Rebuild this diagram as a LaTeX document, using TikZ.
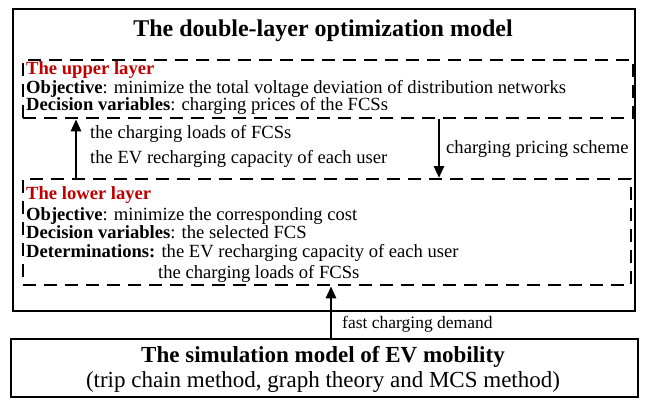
\documentclass[tikz,border=0pt]{standalone}
\usepackage{fontspec}
\setmainfont{Liberation Serif}
\usetikzlibrary{arrows.meta}
\definecolor{layerred}{HTML}{C00000}
\tikzset{
  solidbox/.style={draw=black, line width=1.8pt, inner sep=0pt},
  dashbox/.style={draw=black, line width=2.3pt, dash pattern=on 13pt off 8pt, inner sep=0pt},
  txt/.style={anchor=base west, inner sep=0pt, font=\fontsize{18.6}{20}\selectfont},
  redtxt/.style={txt, text=layerred, font=\fontsize{18.6}{20}\selectfont\bfseries},
  flow/.style={line width=2.6pt, -{Triangle[length=12pt,width=10pt]}},
}
\begin{document}
\begin{tikzpicture}[x=1pt,y=-1pt]
\useasboundingbox (0,0) rectangle (647,399);
% outer box
\node[solidbox, minimum width=622pt, minimum height=302pt, anchor=north west] (outer) at (12,8) {};
\node[anchor=base, inner sep=0pt, font=\fontsize{24}{28}\selectfont\bfseries] (title) at (323,36) {The double-layer optimization model};
% upper layer
\node[dashbox, minimum width=610pt, minimum height=58pt, anchor=north west] (upper) at (22,59) {};
\node[redtxt] (uptitle) at (26,74) {The upper layer};
\node[txt] (upobj) at (26,93) {\textbf{Objective}: minimize the total voltage deviation of distribution networks};
\node[txt] (updec) at (26,110) {\textbf{Decision variables}: charging prices of the FCSs};
% lower layer
\node[dashbox, minimum width=608pt, minimum height=106pt, anchor=north west] (lower) at (22,178) {};
\node[redtxt] (lowtitle) at (26,199) {The lower layer};
\node[txt] (lowobj) at (26,220) {\textbf{Objective}: minimize the corresponding cost};
\node[txt] (lowdec) at (26,238) {\textbf{Decision variables}: the selected FCS};
\node[txt] (lowdet) at (26,257) {\textbf{Determinations:} the EV recharging capacity of each user};
\node[txt] (lowdet2) at (158,278) {the charging loads of FCSs};
% simulation box
\node[solidbox, minimum width=627pt, minimum height=58pt, anchor=north west] (sim) at (10,338) {};
\node[anchor=base, inner sep=0pt, font=\fontsize{23}{27}\selectfont\bfseries] (simtitle) at (323,362) {The simulation model of EV mobility};
\node[anchor=base, inner sep=0pt, font=\fontsize{23}{27}\selectfont] (simsub) at (323,387) {(trip chain method, graph theory and MCS method)};
% arrow x positions
\coordinate (xa) at (76,0);
\coordinate (xb) at (439,0);
\coordinate (xc) at (331,0);
% arrows
\draw[flow] (lower.north -| xa) -- (upper.south -| xa);
\draw[flow] (upper.south -| xb) -- (lower.north -| xb);
\draw[flow] (sim.north -| xc) -- (lower.south -| xc);
% labels
\node[txt] (l1) at (90,138) {the charging loads of FCSs};
\node[txt] (l2) at (90,163) {the EV recharging capacity of each user};
\node[txt] (l3) at (446,153) {charging pricing scheme};
\node[txt, font=\fontsize{17.5}{19}\selectfont] (l4) at (342,328) {fast charging demand};
\end{tikzpicture}
\end{document}
